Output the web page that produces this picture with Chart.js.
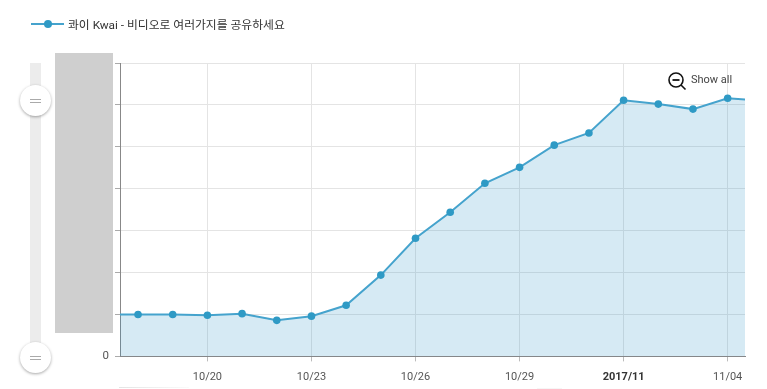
<!DOCTYPE html>
<html>
<head>
<meta charset="utf-8">
<script src="https://cdn.jsdelivr.net/npm/chart.js@4/dist/chart.umd.min.js"></script>
<style>
  html, body { margin: 0; padding: 0; background: #fff; overflow: hidden; }
  body { width: 767px; height: 389px; position: relative; font-family: Roboto, "Noto Sans CJK KR", sans-serif; }
  #wrap { position: absolute; left: 0; top: 0; width: 767px; height: 389px; }
  .abs { position: absolute; }
  #legend { left: 68px; top: 17px; font-size: 11.8px; line-height: 16px; color: #333; white-space: nowrap; }
  #legLine { left: 31px; top: 23px; width: 33px; height: 2px; background: #45a3cd; }
  #legDot { left: 44px; top: 20px; width: 8px; height: 8px; border-radius: 50%; background: #2f9ac5; }
  #track { left: 30px; top: 63px; width: 11px; height: 295px; background: #ececec; }
  #block { left: 55px; top: 53px; width: 58px; height: 280px; background: #cfcfcf; }
  .knob { left: 20px; width: 31px; height: 31px; border-radius: 50%; background: #fff; box-shadow: 0 1px 3px rgba(0,0,0,.35); }
  .knob i { position: absolute; left: 10px; width: 11px; height: 1px; background: #aaa; }
  #showAll { left: 691px; top: 73px; font-size: 11px; line-height: 14px; color: #444; }
  #zoomIcon { left: 667px; top: 71px; }
  #sliver1 { left: 119px; top: 387px; width: 70px; height: 1px; background: linear-gradient(to right, #e4e4e4, #fafafa); }
  #sliver2 { left: 537px; top: 388px; width: 25px; height: 1px; background: #f6f6f6; }
</style>
</head>
<body>
<div id="wrap"><canvas id="chart" width="767" height="389"></canvas></div>
<div class="abs" id="legLine"></div>
<div class="abs" id="legDot"></div>
<div class="abs" id="legend">콰이 Kwai - 비디오로 여러가지를 공유하세요</div>
<div class="abs" id="track"></div>
<div class="abs" id="block"></div>
<div class="abs knob" style="top:85px"><i style="top:14px"></i><i style="top:17px"></i></div>
<div class="abs knob" style="top:342px"><i style="top:14px"></i><i style="top:17px"></i></div>
<svg class="abs" id="zoomIcon" width="20" height="20" viewBox="0 0 20 20">
  <circle cx="9" cy="9" r="7" fill="none" stroke="#111" stroke-width="1.6"/>
  <line x1="5.5" y1="9" x2="12.5" y2="9" stroke="#111" stroke-width="1.8"/>
  <line x1="14" y1="14" x2="18.5" y2="18.5" stroke="#111" stroke-width="1.6"/>
</svg>
<div class="abs" id="showAll">Show all</div>
<div class="abs" id="sliver1"></div>
<div class="abs" id="sliver2"></div>
<script>
// data
const dates = ['10/17', '10/18', '10/19', '10/20', '10/21', '10/22', '10/23', '10/24', '10/25', '10/26',
  '10/27', '10/28', '10/29', '10/30', '10/31', '2017/11', '11/02', '11/03', '11/04', '11/05'];
const installs = [1.0, 1.0, 1.0, 0.98, 1.02, 0.86, 0.96, 1.22, 1.94, 2.82,
  3.44, 4.13, 4.51, 5.04, 5.33, 6.11, 6.02, 5.9, 6.16, 6.1];
const tickDays = [3, 6, 9, 12, 15, 18];
const seriesName = '콰이 Kwai - 비디오로 여러가지를 공유하세요';

const points = dates.map((d, i) => ({ x: i, y: installs[i] }));
const isMonth = ctx => !!ctx.tick && dates[ctx.tick.value] === '2017/11';

new Chart(document.getElementById('chart'), {
  type: 'line',
  data: {
    datasets: [{
      label: seriesName,
      data: points,
      borderColor: '#45a3cd',
      borderWidth: 2,
      backgroundColor: 'rgba(52,152,200,0.2)',
      fill: 'origin',
      tension: 0,
      pointRadius: 3.8,
      pointBackgroundColor: '#2f9ac5',
      pointBorderWidth: 0
    }]
  },
  options: {
    responsive: false,
    animation: false,
    layout: { padding: { left: 0, right: 22, top: 63, bottom: 0 } },
    plugins: { legend: { display: false }, tooltip: { enabled: false } },
    scales: {
      x: {
        type: 'linear',
        min: 0.48,
        max: 18.5,
        afterBuildTicks: axis => { axis.ticks = tickDays.map(v => ({ value: v })); },
        afterFit: axis => { axis.height = 32.6; },
        grid: { color: '#e4e4e4', tickColor: '#bbb', tickLength: 5 },
        border: { color: '#888', width: 1 },
        ticks: {
          autoSkip: false,
          maxRotation: 0,
          padding: 9,
          color: ctx => isMonth(ctx) ? '#333' : '#555',
          font: ctx => ({ family: 'Roboto', size: 11, weight: isMonth(ctx) ? 'bold' : 'normal' }),
          callback: v => dates[v]
        }
      },
      y: {
        min: 0,
        max: 7,
        afterFit: axis => { axis.width = 120; },
        grid: { color: '#e4e4e4', tickColor: '#aaa', tickLength: 5 },
        border: { color: '#888', width: 1 },
        ticks: {
          stepSize: 1,
          padding: 6,
          color: '#555',
          font: { family: 'Roboto', size: 11.5 },
          callback: v => v === 0 ? '0' : ''
        }
      }
    }
  }
});
</script>
</body>
</html>
